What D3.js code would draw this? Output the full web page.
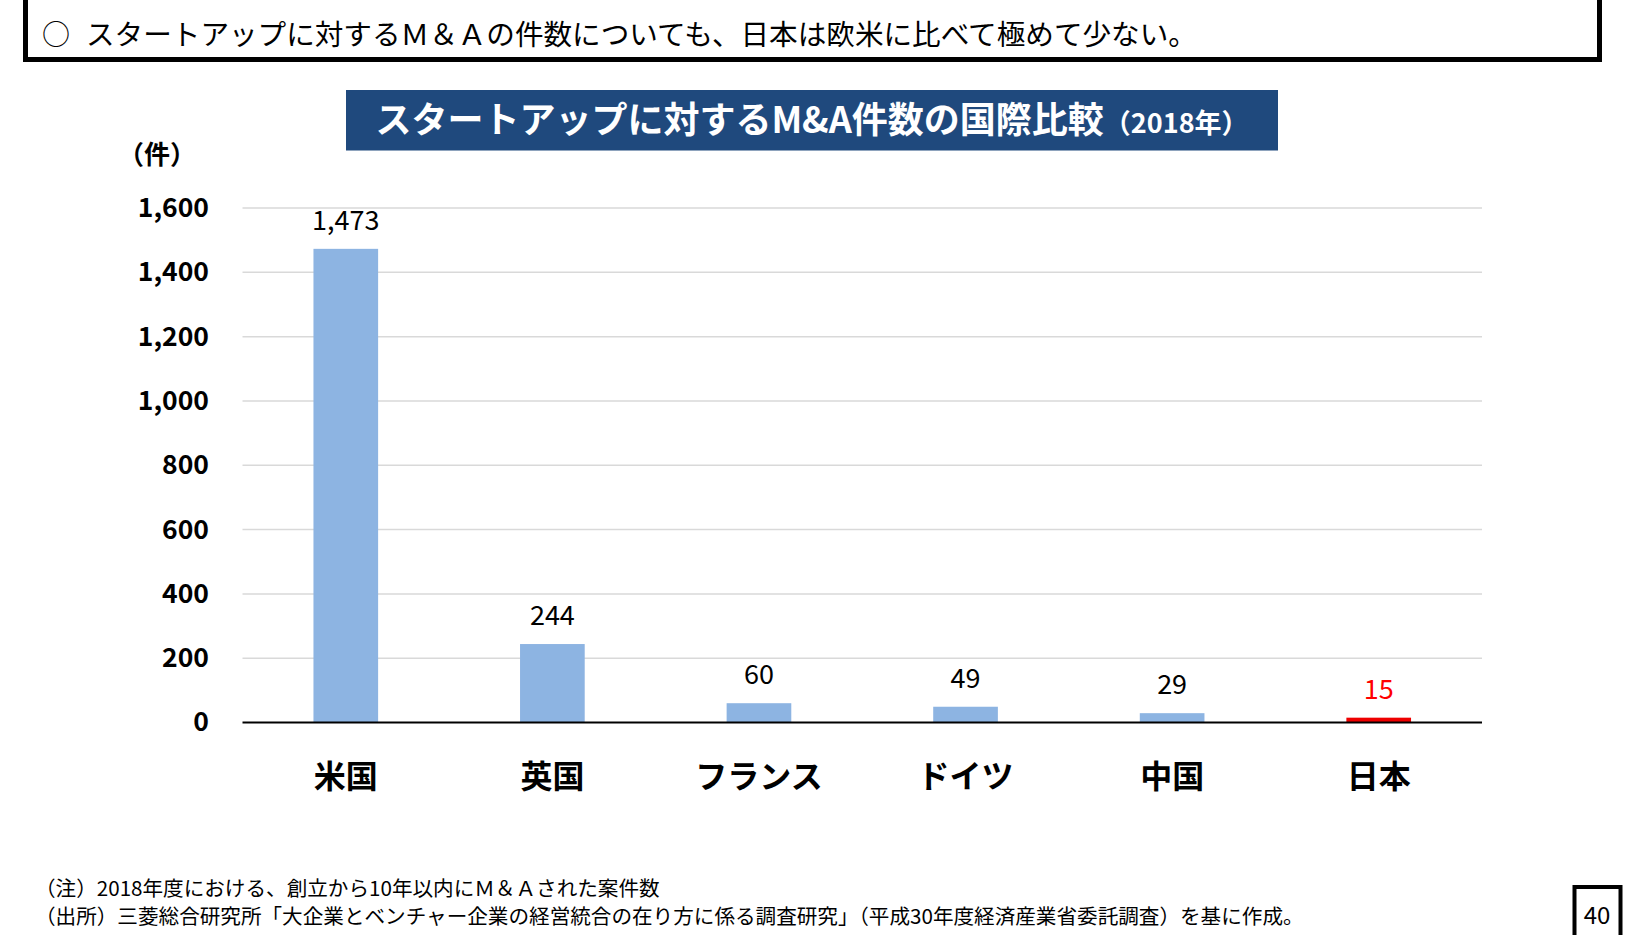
<html>
<head>
<meta charset="utf-8">
<style>
  body { margin: 0; background: #fff; }
  svg text { font-family: "Noto Sans CJK JP", "Noto Sans", sans-serif; }
</style>
</head>
<body>
  <div id="visualSVG"></div>
  <script src="https://cdnjs.cloudflare.com/ajax/libs/d3/7.8.5/d3.min.js"></script>
  <script>
    // data
    var categories = ['米国', '英国', 'フランス', 'ドイツ', '中国', '日本'];
    var counts = [1473, 244, 60, 49, 29, 15];
    var yTicks = [0, 200, 400, 600, 800, 1000, 1200, 1400, 1600];
    var headline = 'スタートアップに対するＭ＆Ａの件数についても、日本は欧米に比べて極めて少ない。';
    var chartTitle = 'スタートアップに対するM&A件数の国際比較';
    var titleYear = '（2018年）';
    var unitLabel = '（件）';
    var notes = ['（注）2018年度における、創立から10年以内にＭ＆Ａされた案件数',
                 '（出所）三菱総合研究所「大企業とベンチャー企業の経営統合の在り方に係る調査研究」（平成30年度経済産業省委託調査）を基に作成。'];
    var pageNo = '40';

    var svgWidth = 1625,
        svgHeight = 935,
        plotLeft = 242.5,
        plotRight = 1482,
        plotTop = 208,
        plotBottom = 722.5,
        labelGap = 19;   // space b/w bar top and value text

    var svg = d3.select('#visualSVG').append('svg')
      .attr('width', svgWidth)
      .attr('height', svgHeight);

    // header box
    svg.append('rect')
      .attr('x', 25.5).attr('y', -10)
      .attr('width', 1574).attr('height', 69.5)
      .attr('fill', 'none').attr('stroke', '#000').attr('stroke-width', 5);
    svg.append('text')
      .attr('x', 42).attr('y', 45)
      .attr('font-size', 28)
      .text('○');
    svg.append('text')
      .attr('x', 86).attr('y', 45)
      .attr('font-size', 28.6)
      .attr('fill', '#000')
      .text(headline);

    // title banner
    svg.append('rect')
      .attr('x', 346).attr('y', 90)
      .attr('width', 932).attr('height', 60.5)
      .attr('fill', '#1F497D');
    var title = svg.append('text')
      .attr('x', 812).attr('y', 133)
      .attr('text-anchor', 'middle')
      .attr('fill', '#fff')
      .attr('font-weight', 'bold');
    title.append('tspan').attr('font-size', 36).text(chartTitle);
    title.append('tspan').attr('font-size', 27).text(titleYear);

    // scales
    var x = d3.scaleBand()
      .domain(categories)
      .range([plotLeft, plotRight])
      .paddingInner(0.687)
      .paddingOuter(0.3435);
    var y = d3.scaleLinear()
      .domain([0, 1600])
      .range([plotBottom, plotTop]);

    // gridlines
    svg.append('g')
      .selectAll('line')
      .data(yTicks.filter(function(d){ return d > 0; }))
      .enter()
      .append('line')
      .attr('x1', plotLeft).attr('x2', plotRight)
      .attr('y1', function(d){ return y(d); })
      .attr('y2', function(d){ return y(d); })
      .attr('stroke', '#D9D9D9')
      .attr('stroke-width', 1.5);

    // y axis labels
    var yAxis = d3.axisLeft(y)
      .tickValues(yTicks)
      .tickSize(0)
      .tickPadding(0)
      .tickFormat(d3.format(','));
    var yG = svg.append('g')
      .attr('transform', 'translate(209,0)')
      .call(yAxis);
    yG.select('.domain').remove();
    yG.selectAll('text')
      .attr('font-size', 26.5)
      .attr('font-weight', 'bold')
      .attr('fill', '#000')
      .style('font-family', '"Noto Sans CJK JP", sans-serif');

    svg.append('text')
      .attr('x', 118).attr('y', 164)
      .attr('font-size', 26)
      .attr('font-weight', 'bold')
      .text(unitLabel);

    // bars
    svg.append('g')
      .selectAll('rect')
      .data(counts)
      .enter()
      .append('rect')
      .attr('x', function(d, i){ return x(categories[i]); })
      .attr('width', x.bandwidth())
      .attr('y', function(d){ return y(d); })
      .attr('height', function(d){ return plotBottom - y(d); })
      .attr('fill', function(d, i){ return categories[i] === '日本' ? '#EE0000' : '#8DB4E2'; });

    // value labels
    svg.append('g')
      .selectAll('text')
      .data(counts)
      .enter()
      .append('text')
      .attr('x', function(d, i){ return x(categories[i]) + x.bandwidth() / 2; })
      .attr('y', function(d){ return y(d) - labelGap; })
      .attr('text-anchor', 'middle')
      .attr('font-size', 27)
      .attr('fill', function(d, i){ return categories[i] === '日本' ? '#FF0000' : '#000'; })
      .text(function(d){ return d3.format(',')(d); });

    // baseline
    svg.append('line')
      .attr('x1', plotLeft).attr('x2', plotRight)
      .attr('y1', plotBottom).attr('y2', plotBottom)
      .attr('stroke', '#000').attr('stroke-width', 2);

    // category labels
    var xAxis = d3.axisBottom(x).tickSize(0).tickPadding(0);
    var xG = svg.append('g')
      .attr('transform', 'translate(0,' + 788 + ')')
      .call(xAxis);
    xG.select('.domain').remove();
    xG.selectAll('text')
      .attr('dy', 0)
      .attr('font-size', 32)
      .attr('font-weight', 'bold')
      .attr('fill', '#000')
      .style('font-family', '"Noto Sans CJK JP", sans-serif');

    // notes
    svg.append('g')
      .selectAll('text')
      .data(notes)
      .enter()
      .append('text')
      .attr('x', 35)
      .attr('y', function(d, i){ return 896 + i * 28; })
      .attr('font-size', 20.6)
      .attr('fill', '#000')
      .text(function(d){ return d; });

    // page number
    svg.append('rect')
      .attr('x', 1574.5).attr('y', 887)
      .attr('width', 46).attr('height', 52)
      .attr('fill', 'none').attr('stroke', '#000').attr('stroke-width', 4);
    svg.append('text')
      .attr('x', 1597).attr('y', 924)
      .attr('text-anchor', 'middle')
      .attr('font-size', 24)
      .text(pageNo);
  </script>
</body>
</html>
